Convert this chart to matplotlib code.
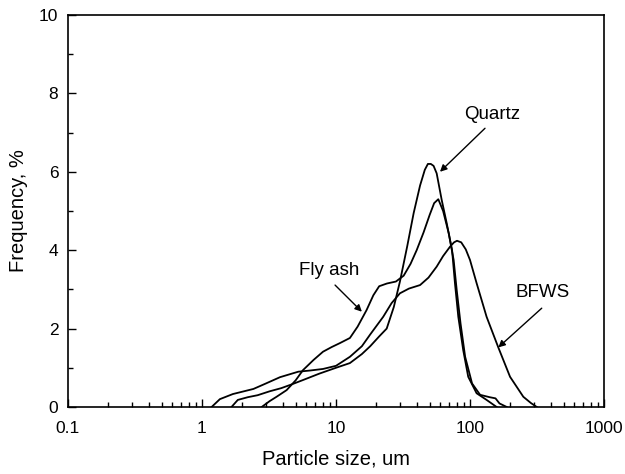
import numpy as np
import matplotlib.pyplot as plt

plt.rcParams['font.family'] = ['Liberation Sans', 'DejaVu Sans']

# particle size distributions (size in um, frequency in %)
quartz_size = [1.66, 1.85, 2.2, 2.6, 3.2, 3.9, 4.7, 5.6, 7.5, 10, 12.7, 15.6, 18, 21, 23.9, 27,
               30, 34, 38, 42.4, 46, 48.5, 51, 53.5, 56.4, 61.5, 67, 73.5, 77.2, 81.8, 89, 97,
               112, 133, 158]
quartz_freq = [0.0, 0.18, 0.25, 0.3, 0.4, 0.48, 0.58, 0.68, 0.85, 1.0, 1.12, 1.35, 1.55, 1.8, 2.0, 2.55,
               3.2, 4.1, 4.95, 5.65, 6.05, 6.2, 6.2, 6.15, 5.96, 5.28, 4.69, 4.0, 3.16, 2.3, 1.45, 0.77,
               0.35, 0.18, 0.0]

flyash_size = [2.79, 3.2, 3.6, 4.28, 5.0, 5.67, 6.8, 8.0, 9.3, 10.7, 12.7, 14.5, 16.9, 19, 21, 24,
               28, 32, 36, 40, 45, 50, 54, 58, 63, 69.4, 75.5, 79.6, 85, 92, 103.6, 119, 140,
               155, 166, 188]
flyash_freq = [0.0, 0.15, 0.26, 0.43, 0.68, 0.94, 1.2, 1.41, 1.53, 1.63, 1.76, 2.05, 2.47, 2.85, 3.08, 3.15,
               3.2, 3.35, 3.65, 4.0, 4.45, 4.9, 5.2, 5.3, 5.0, 4.43, 3.75, 2.98, 2.13, 1.28, 0.6, 0.31, 0.25,
               0.22, 0.09, 0.0]

bfws_size = [1.18, 1.36, 1.7, 2.42, 3.0, 3.82, 5.23, 6.4, 8.0, 10, 12.7, 15.6, 18, 22.5, 26, 30,
             35, 42.4, 49, 56.4, 63, 71, 76, 80, 86, 93, 100, 112, 133, 162.6, 199, 250, 285, 315]
bfws_freq = [0.0, 0.2, 0.33, 0.46, 0.6, 0.76, 0.9, 0.93, 0.97, 1.05, 1.28, 1.55, 1.85, 2.3, 2.65, 2.9,
             3.02, 3.11, 3.3, 3.58, 3.85, 4.09, 4.2, 4.24, 4.2, 4.02, 3.75, 3.16, 2.3, 1.52, 0.77, 0.26, 0.1, 0.0]

fig = plt.figure(figsize=(6.25, 4.74), dpi=100)
ax = fig.add_axes([0.1088, 0.1414, 0.8576, 0.827])

for s, f in [(quartz_size, quartz_freq), (flyash_size, flyash_freq), (bfws_size, bfws_freq)]:
    ax.plot(s, f, color='black', lw=1.3)

ax.set_xscale('log')
ax.set_xlim(0.1, 1000)
ax.set_ylim(0, 10)
ax.set_yticks([0, 2, 4, 6, 8, 10])
ax.set_yticks([1, 3, 5, 7, 9], minor=True)
ax.set_xticks([0.1, 1, 10, 100, 1000])
ax.set_xticklabels(['0.1', '1', '10', '100', '1000'])
ax.tick_params(which='both', direction='in', labelsize=12.5, width=1.0)
ax.tick_params(which='major', length=6)
ax.tick_params(which='minor', length=3.5)
ax.tick_params(axis='x', pad=10)
ax.tick_params(axis='y', pad=7)
for sp in ax.spines.values():
    sp.set_linewidth(1.2)

ax.set_xlabel('Particle size, um', fontsize=14.5, labelpad=10)
ax.set_ylabel('Frequency, %', fontsize=14.5, labelpad=8)

arrow = dict(arrowstyle='-|>', color='black', lw=1.0, mutation_scale=10, shrinkA=0, shrinkB=0)
ax.text(145.8, 7.45, 'Quartz', ha='center', va='center', fontsize=13.5)
ax.annotate('', xy=(59.7, 6.0), xytext=(129.4, 7.11), arrowprops=arrow)
ax.text(8.87, 3.49, 'Fly ash', ha='center', va='center', fontsize=13.5)
ax.annotate('', xy=(15.6, 2.43), xytext=(9.84, 3.11), arrowprops=arrow)
ax.text(351, 2.91, 'BFWS', ha='center', va='center', fontsize=13.5)
ax.annotate('', xy=(162.6, 1.52), xytext=(343, 2.52), arrowprops=arrow)

fig.savefig('out.png', dpi=100)
